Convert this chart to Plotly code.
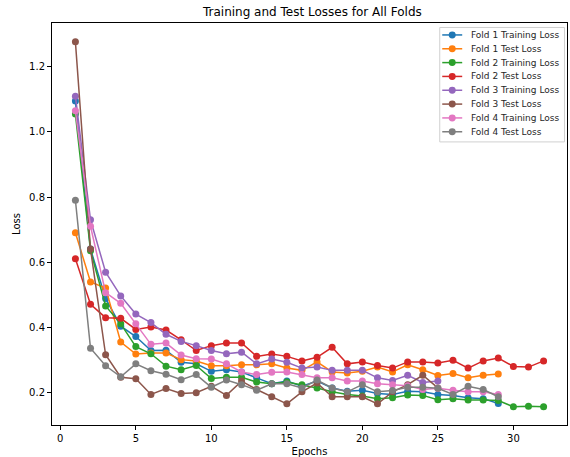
import plotly.graph_objects as go

fold1_train = [1.095, 0.64, 0.488, 0.403, 0.371, 0.328, 0.329, 0.292, 0.287, 0.264, 0.269, 0.262, 0.244, 0.226, 0.234, 0.218, 0.234, 0.213, 0.203, 0.206, 0.196, 0.193, 0.203, 0.201, 0.193, 0.19, 0.183, 0.18, 0.165]
fold1_test = [0.69, 0.539, 0.52, 0.354, 0.317, 0.32, 0.32, 0.3, 0.296, 0.281, 0.281, 0.284, 0.284, 0.287, 0.274, 0.267, 0.293, 0.262, 0.259, 0.264, 0.277, 0.262, 0.284, 0.269, 0.251, 0.257, 0.244, 0.252, 0.256]
fold2_train = [1.055, 0.635, 0.465, 0.41, 0.34, 0.318, 0.28, 0.269, 0.282, 0.242, 0.246, 0.246, 0.231, 0.226, 0.231, 0.223, 0.213, 0.201, 0.193, 0.188, 0.18, 0.183, 0.191, 0.19, 0.177, 0.18, 0.176, 0.176, 0.174, 0.155, 0.157, 0.155]
fold2_test = [0.61, 0.47, 0.429, 0.427, 0.393, 0.4, 0.391, 0.361, 0.328, 0.343, 0.351, 0.351, 0.31, 0.317, 0.31, 0.296, 0.307, 0.338, 0.287, 0.293, 0.282, 0.274, 0.293, 0.293, 0.29, 0.298, 0.274, 0.296, 0.305, 0.279, 0.277, 0.296]
fold3_train = [1.11, 0.73, 0.569, 0.496, 0.44, 0.414, 0.378, 0.356, 0.343, 0.328, 0.318, 0.323, 0.287, 0.302, 0.292, 0.274, 0.277, 0.267, 0.267, 0.267, 0.244, 0.236, 0.252, 0.23, 0.234]
fold3_test = [1.277, 0.64, 0.315, 0.246, 0.241, 0.193, 0.211, 0.196, 0.198, 0.218, 0.19, 0.234, 0.208, 0.186, 0.164, 0.201, 0.228, 0.186, 0.186, 0.186, 0.164, 0.201, 0.223, 0.252, 0.213]
fold4_train = [1.065, 0.71, 0.506, 0.473, 0.41, 0.347, 0.351, 0.314, 0.303, 0.302, 0.287, 0.262, 0.254, 0.261, 0.262, 0.254, 0.244, 0.244, 0.234, 0.234, 0.226, 0.223, 0.22, 0.208, 0.212, 0.206, 0.201, 0.201, 0.193]
fold4_test = [0.79, 0.335, 0.281, 0.247, 0.287, 0.266, 0.255, 0.238, 0.254, 0.215, 0.237, 0.223, 0.206, 0.226, 0.226, 0.213, 0.237, 0.213, 0.201, 0.223, 0.201, 0.205, 0.215, 0.215, 0.212, 0.193, 0.218, 0.208, 0.186]

series_names = ["Fold 1 Training Loss", "Fold 1 Test Loss", "Fold 2 Training Loss", "Fold 2 Test Loss",
                "Fold 3 Training Loss", "Fold 3 Test Loss", "Fold 4 Training Loss", "Fold 4 Test Loss"]
series_values = [fold1_train, fold1_test, fold2_train, fold2_test, fold3_train, fold3_test, fold4_train, fold4_test]
series_colors = ["#1f77b4", "#ff7f0e", "#2ca02c", "#d62728", "#9467bd", "#8c564b", "#e377c2", "#7f7f7f"]

W, H = 570, 457
ML, MR, MT, MB = 52, 2, 23, 30
PW, PH = W - ML - MR, H - MT - MB

fig = go.Figure()
for name, vals, color in zip(series_names, series_values, series_colors):
    fig.add_trace(go.Scatter(
        x=list(range(1, len(vals) + 1)), y=vals, name=name,
        mode="lines+markers",
        line=dict(color=color, width=1.5),
        marker=dict(color=color, size=7),
        showlegend=False,
    ))

# custom matplotlib-style legend (compact rows)
def px_x(p):
    return (p - ML) / PW

def px_y(p):
    return (H - MB - p) / PH

shapes = [dict(type="rect", xref="paper", yref="paper",
               x0=px_x(440.5), x1=px_x(565.5), y0=px_y(142.5), y1=px_y(27.5),
               line=dict(color="#d0d0d0", width=1), fillcolor="rgba(255,255,255,0.8)", layer="above")]
annotations = []
row0, dy = 35.0, 13.9
for i, (name, color) in enumerate(zip(series_names, series_colors)):
    yc = row0 + i * dy
    shapes.append(dict(type="line", xref="paper", yref="paper",
                       x0=px_x(443), x1=px_x(463), y0=px_y(yc), y1=px_y(yc),
                       line=dict(color=color, width=1.5), layer="above"))
    shapes.append(dict(type="circle", xref="paper", yref="paper",
                       x0=px_x(453 - 3.5), x1=px_x(453 + 3.5), y0=px_y(yc + 3.5), y1=px_y(yc - 3.5),
                       line=dict(color=color, width=0), fillcolor=color, layer="above"))
    annotations.append(dict(text=name, xref="paper", yref="paper", x=px_x(469.5), y=px_y(yc),
                            xanchor="left", yanchor="middle", showarrow=False,
                            font=dict(size=9, color="#262626")))

font = "DejaVu Sans, sans-serif"
fig.update_layout(
    width=W, height=H,
    margin=dict(l=ML, r=MR, t=MT, b=MB),
    paper_bgcolor="white", plot_bgcolor="white",
    font=dict(family=font, size=10, color="black"),
    title=dict(text="Training and Test Losses for All Folds", x=0.548, xanchor="center",
               y=1 - 12 / H, yref="container", yanchor="middle",
               font=dict(size=12, color="black")),
    showlegend=False,
    shapes=shapes,
    annotations=annotations,
    xaxis=dict(range=[-0.55, 33.55], tickvals=[0, 5, 10, 15, 20, 25, 30],
               showgrid=False, zeroline=False, showline=True, mirror=True,
               linecolor="black", linewidth=1, ticks="outside", ticklen=4,
               tickcolor="black",
               title=dict(text="Epochs", standoff=4, font=dict(size=10))),
    yaxis=dict(range=[0.099, 1.335], tickvals=[0.2, 0.4, 0.6, 0.8, 1.0, 1.2],
               tickformat=".1f",
               showgrid=False, zeroline=False, showline=True, mirror=True,
               linecolor="black", linewidth=1, ticks="outside", ticklen=4,
               tickcolor="black",
               title=dict(text="Loss", standoff=6, font=dict(size=10))),
)

fig.write_html("out.html")
